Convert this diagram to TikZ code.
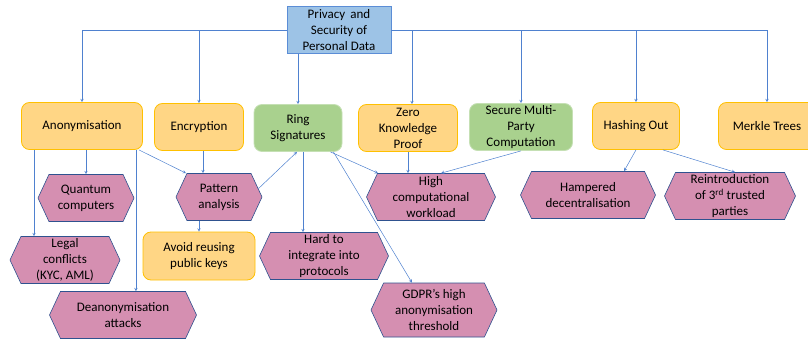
\documentclass[tikz,border=0pt]{standalone}
\usepackage{fontspec}
\setmainfont{Carlito}
\usetikzlibrary{shapes.symbols}

\definecolor{rootfill}{RGB}{157,195,230}
\definecolor{rootline}{RGB}{91,141,214}
\definecolor{orangefill}{RGB}{255,214,133}
\definecolor{orangeline}{RGB}{255,192,0}
\definecolor{greenfill}{RGB}{169,209,142}
\definecolor{greenline}{RGB}{197,224,180}
\definecolor{pinkfill}{RGB}{213,143,177}
\definecolor{pinkline}{RGB}{47,82,143}
\definecolor{linkblue}{RGB}{79,129,207}

\tikzset{
  topbox/.style={draw=orangeline, fill=orangefill, rounded corners=8pt, minimum height=47pt, inner ysep=0pt, line width=0.8pt},
  greenbox/.style={topbox, draw=greenline, fill=greenfill},
  hexa/.style={signal, signal to=west and east, signal pointer angle=130, draw=pinkline, fill=pinkfill, minimum height=47pt, inner ysep=0pt, line width=0.6pt},
  link/.style={draw=linkblue, line width=0.5pt, -stealth}
}

\begin{document}
\begin{tikzpicture}[x=1pt, y=-1pt, every node/.append style={font=\fontsize{13}{16}\selectfont, align=center}]
\useasboundingbox (0,0) rectangle (808,339);

% root
\node[draw=rootline, fill=rootfill, minimum width=104pt, minimum height=47pt, inner ysep=0pt] (root) at (339,30) {Privacy\, and\\Security of\\Personal Data};

% methods
\node[topbox, minimum width=121pt]   (anon)   at (82,126)  {Anonymisation};
\node[topbox, minimum width=89pt]    (enc)    at (199,127) {Encryption};
\node[greenbox, minimum width=88pt]  (ring)   at (298,128) {Ring\\Signatures};
\node[topbox, minimum width=99pt]    (zkp)    at (408,128) {Zero\\Knowledge\\Proof};
\node[greenbox, minimum width=103pt] (smpc)   at (521,127) {Secure Multi-\\Party\\Computation};
\node[topbox, minimum width=87pt]    (hash)   at (636,126) {Hashing Out};
\node[topbox, minimum width=97pt]    (merkle) at (767,126) {Merkle Trees};

% issues
\node[hexa, minimum width=96pt]  (quantum) at (86,198)  {Quantum\\computers};
\node[hexa, minimum width=86pt]  (pattern) at (219,197) {Pattern\\analysis};
\node[hexa, minimum width=110pt] (legal)   at (65,260)  {Legal\\conflicts\\(KYC, AML)};
\node[topbox, minimum width=112pt, minimum height=48pt] (avoid) at (199,256) {Avoid reusing\\public keys};
\node[hexa, minimum width=129pt] (hard)    at (324,256) {Hard to\\integrate into\\protocols};
\node[hexa, minimum width=147pt] (deanon)  at (123,315) {Deanonymisation\\attacks};
\node[hexa, minimum width=129pt] (high)    at (431,197) {High\\computational\\workload};
\node[hexa, minimum width=135pt] (hamp)    at (588,195) {Hampered\\decentralisation};
\node[hexa, minimum width=131pt] (reint)   at (730,196) {Reintroduction\\of 3\textsuperscript{rd} trusted\\parties};
\node[hexa, minimum width=126pt, minimum height=54pt] (gdpr) at (434,310) {GDPR’s high\\anonymisation\\threshold};

% from root
\draw[link] (root.west) -| (anon.north);
\draw[link] (root.west) -| (enc.north);
\draw[link] (root.south -| ring.north) -- (ring.north);
\draw[link] (root.east) -| ([xshift=4pt]zkp.north);
\draw[link] (root.east) -| (smpc.north);
\draw[link] (root.east) -| (hash.north);
\draw[link] (root.east) -| (merkle.north);

% anonymisation
\draw[link] (quantum.north |- anon.south) -- (quantum.north);
\draw[link] ([xshift=-48pt]anon.south) -- ([xshift=-48pt]anon.south |- legal.north);
\draw[link] ([xshift=-7pt]anon.south east) -- ([xshift=-7pt]anon.south east |- deanon.north);
\draw[link] ([xshift=-4pt]anon.south east) -- ([xshift=-33pt]pattern.north);

% encryption
\draw[link] ([xshift=4pt]enc.south) -- ([xshift=4pt]enc.south |- pattern.north);
\draw[link] (avoid.north |- pattern.south) -- (avoid.north);

% ring signatures
\draw[link] (pattern.12) -- ([xshift=-1pt]ring.south);
\draw[link] ([xshift=5pt]ring.south) -- ([xshift=5pt]ring.south |- hard.north);
\draw[link] ([xshift=-12pt]ring.south east) -- ([xshift=-53pt]high.north);
\draw[link] ([xshift=-9pt]ring.south east) -- ([xshift=-22pt]gdpr.north);

% zero knowledge, multi-party
\draw[link] (zkp.south) -- (zkp.south |- high.north);
\draw[link] (smpc.south) -- ([xshift=10pt]high.north);

% hashing out
\draw[link] (hash.south) -- ([xshift=36pt]hamp.north);
\draw[link] ([xshift=-17pt]hash.south east) -- ([xshift=5pt]reint.north);

\end{tikzpicture}
\end{document}
